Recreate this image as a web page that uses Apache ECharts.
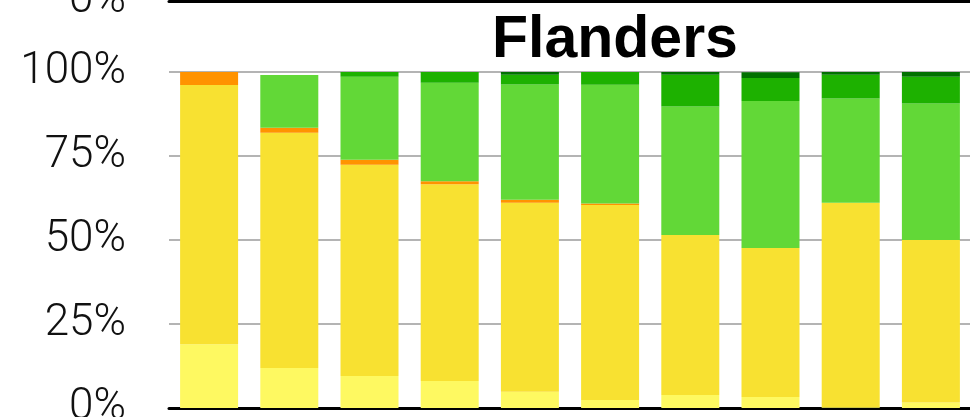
<!DOCTYPE html>
<html>
<head>
<meta charset="utf-8">
<script src="https://cdn.jsdelivr.net/npm/echarts@6/dist/echarts.min.js"></script>
<style>
  html, body { margin: 0; padding: 0; background: #fff; }
  #chart { width: 970px; height: 417px; }
</style>
</head>
<body>
<div id="chart"></div>
<script>
// categories (axis labels are cut off in the picture)
const categories = ['1', '2', '3', '4', '5', '6', '7', '8', '9', '10'];
const yTicks = [0, 25, 50, 75, 100];

// shares per bar, bottom to top, in %
const lightYellow = [19.0, 11.9, 9.5, 8.0, 4.8, 2.4, 3.9, 3.3, 0.2, 1.6];
const yellow      = [77.1, 70.0, 62.9, 58.6, 56.3, 58.0, 47.6, 44.3, 60.9, 48.4];
const orange      = [3.9, 1.5, 1.5, 0.9, 0.9, 0.5, 0, 0, 0, 0];
const lightGreen  = [0, 15.7, 24.7, 29.3, 34.3, 35.3, 38.2, 43.8, 31.0, 40.6];
const green       = [0, 0, 1.4, 3.2, 2.9, 3.8, 9.5, 6.8, 7.1, 8.0];
const darkGreen   = [0, 0, 0, 0, 0.9, 0, 0.8, 1.7, 0.8, 1.4];
const blank       = [0, 0.9, 0, 0, 0, 0, 0, 0, 0, 0];

const seriesDefs = [
  { name: 'Light yellow', data: lightYellow, color: '#FEF961' },
  { name: 'Yellow', data: yellow, color: '#F8E131' },
  { name: 'Orange', data: orange, color: '#FF9300' },
  { name: 'Light green', data: lightGreen, color: '#62D837' },
  { name: 'Green', data: green, color: '#1DB100' },
  { name: 'Dark green', data: darkGreen, color: '#017100' },
  { name: 'Blank', data: blank, color: 'rgba(255,255,255,0)' }
];

const chart = echarts.init(document.getElementById('chart'));
const labelFont = { fontFamily: 'Roboto', fontWeight: 300, fontSize: 44, color: '#111' };

const option = {
  animation: false,
  title: {
    text: 'Flanders',
    left: 487,
    top: 6,
    textStyle: { fontFamily: 'Liberation Sans', fontWeight: 'bold', fontSize: 59, color: '#000' }
  },
  grid: [
    { left: 169, width: 802, top: 72, height: 336, outerBoundsMode: 'none', containLabel: false },
    // the chart above, only its base line and 0% label peek in
    { left: 169, width: 802, top: -335, height: 336, outerBoundsMode: 'none', containLabel: false }
  ],
  xAxis: [0, 1].map(i => ({
    type: 'category',
    gridIndex: i,
    data: categories,
    axisLine: { show: true, lineStyle: { color: '#000', width: 3 } },
    axisTick: { show: false },
    axisLabel: { show: false }
  })),
  yAxis: [0, 1].map(i => ({
    type: 'value',
    gridIndex: i,
    min: 0,
    max: 100,
    interval: 25,
    axisLine: { show: false },
    axisTick: { show: false },
    axisLabel: Object.assign({ margin: 43, formatter: v => yTicks.includes(v) ? v + '%' : '' }, labelFont),
    splitLine: { show: true, lineStyle: { color: '#b4b4b4', width: 2 } }
  })),
  series: seriesDefs.map(s => ({
    name: s.name,
    type: 'bar',
    stack: 'total',
    xAxisIndex: 0,
    yAxisIndex: 0,
    barWidth: 58,
    itemStyle: { color: s.color },
    data: s.data
  }))
};

chart.setOption(option);
</script>
</body>
</html>
